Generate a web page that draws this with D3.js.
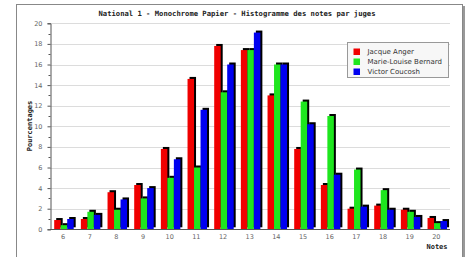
<!DOCTYPE html>
<html>
<head>
<meta charset="utf-8">
<script src="https://cdn.jsdelivr.net/npm/d3@7"></script>
<style>
  body { margin: 0; background: #fff; }
  svg { display: block; }
</style>
</head>
<body>
<div id="chart"></div>
<script>
// notes 6..20
var notes = ['6','7','8','9','10','11','12','13','14','15','16','17','18','19','20'];
var juges = ['Jacque Anger', 'Marie-Louise Bernard', 'Victor Coucosh'];
var anger   = [0.9, 1.0, 3.6, 4.3, 7.8, 14.6, 17.8, 17.4, 13.0, 7.8, 4.3, 2.0, 2.3, 1.9, 1.1];
var bernard = [0.4, 1.7, 1.9, 3.0, 5.0, 6.0, 13.3, 17.4, 16.0, 12.4, 11.0, 5.8, 3.8, 1.7, 0.6];
var coucosh = [1.0, 1.4, 2.9, 4.0, 6.8, 11.6, 16.0, 19.1, 16.0, 10.2, 5.3, 2.2, 1.9, 1.2, 0.8];
var yTicks = [0, 2, 4, 6, 8, 10, 12, 14, 16, 18, 20];

var W = 467, H = 257;
var couleurs = ['#f00000', '#1ee61e', '#0000f0'];
var series = [anger, bernard, coucosh];

var svg = d3.select('#chart').append('svg')
    .attr('width', W).attr('height', H);

// frame
svg.append('rect').attr('x', 16.5).attr('y', 4.5).attr('width', 446).attr('height', 260)
    .attr('fill', '#fff').attr('stroke', '#888');
svg.append('rect').attr('x', 463).attr('y', 6).attr('width', 2).attr('height', 260)
    .attr('fill', '#999');

var x0 = d3.scaleBand().domain(notes).range([49.7, 449.7]);
var x1 = d3.scaleBand().domain(d3.range(3)).range([4.5, 24]);
var y = d3.scaleLinear().domain([0, 20]).range([229.3, 23.3]);

// grid
svg.append('g').selectAll('line').data(yTicks.slice(1)).enter().append('line')
    .attr('x1', 50).attr('x2', 450)
    .attr('y1', function(d){ return Math.round(y(d)) + 0.5; })
    .attr('y2', function(d){ return Math.round(y(d)) + 0.5; })
    .attr('stroke', '#dcdcdc');

// bars with black 3d shadow
var grp = svg.append('g').selectAll('g').data(notes).enter().append('g')
    .attr('transform', function(d){ return 'translate(' + x0(d) + ',0)'; });
grp.each(function(n, i){
    var g = d3.select(this);
    series.forEach(function(s, k){
        var v = s[i];
        g.append('rect')
            .attr('x', x1(k) + 2).attr('y', y(v) - 2)
            .attr('width', x1.bandwidth()).attr('height', y(0) - y(v))
            .attr('fill', '#000');
        g.append('rect')
            .attr('x', x1(k)).attr('y', y(v))
            .attr('width', x1.bandwidth()).attr('height', y(0) - y(v))
            .attr('fill', couleurs[k]);
    });
});

// y axis
var yAxis = d3.axisLeft(y).tickValues(yTicks).tickSize(3).tickPadding(5);
var ya = svg.append('g').attr('transform', 'translate(50.5,0)').call(yAxis);
ya.select('.domain').attr('stroke', '#555');
ya.selectAll('.tick line').attr('stroke', '#555');
ya.selectAll('.tick text').attr('fill', '#666')
    .style('font-family', 'DejaVu Sans').style('font-size', '6.5px');
svg.append('g').selectAll('line').data(d3.range(1, 20, 2)).enter().append('line')
    .attr('x1', 48.5).attr('x2', 50.5)
    .attr('y1', function(d){ return Math.round(y(d)) + 0.5; })
    .attr('y2', function(d){ return Math.round(y(d)) + 0.5; })
    .attr('stroke', '#555');

// x axis
var xAxis = d3.axisBottom(x0).tickSize(0).tickPadding(5);
var xa = svg.append('g').attr('transform', 'translate(0,229.5)').call(xAxis);
xa.select('.domain').attr('stroke', '#555').attr('d', 'M50,0H450');
xa.selectAll('.tick text').attr('fill', '#666')
    .style('font-family', 'DejaVu Sans').style('font-size', '6.5px');

// titles
svg.append('text').attr('x', 237).attr('y', 15.5).attr('text-anchor', 'middle')
    .style('font-family', 'DejaVu Sans Mono').style('font-size', '7.2px')
    .style('font-weight', 'bold').attr('fill', '#222')
    .text('National 1 - Monochrome Papier - Histogramme des notes par juges');
svg.append('text').attr('transform', 'translate(32,126) rotate(-90)')
    .attr('text-anchor', 'middle')
    .style('font-family', 'DejaVu Sans Mono').style('font-size', '7px')
    .style('font-weight', 'bold').attr('fill', '#222')
    .text('Pourcentages');
svg.append('text').attr('x', 437).attr('y', 248.5).attr('text-anchor', 'middle')
    .style('font-family', 'DejaVu Sans Mono').style('font-size', '7px')
    .style('font-weight', 'bold').attr('fill', '#222')
    .text('Notes');

// legend
var leg = svg.append('g').attr('transform', 'translate(347.5,42.5)');
leg.append('rect').attr('width', 101).attr('height', 35)
    .attr('fill', '#f7f7f7').attr('stroke', '#999');
juges.forEach(function(j, k){
    leg.append('rect').attr('x', 6).attr('y', 6 + k * 10)
        .attr('width', 6.5).attr('height', 6.5).attr('fill', couleurs[k]);
    leg.append('text').attr('x', 20).attr('y', 11.5 + k * 10)
        .style('font-family', 'DejaVu Sans').style('font-size', '7px')
        .attr('fill', '#333').text(j);
});
</script>
</body>
</html>
